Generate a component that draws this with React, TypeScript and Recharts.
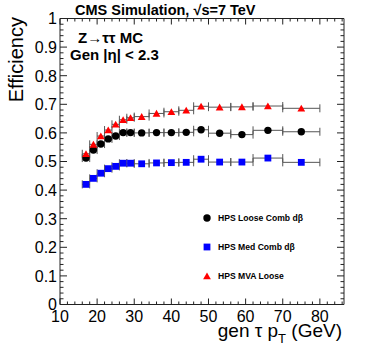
import React from 'react';
import { ScatterChart, Scatter, XAxis, YAxis, ErrorBar, ReferenceLine } from 'recharts';

// ---- data ----
const ptBins = [17, 19, 21, 23, 25, 27, 29, 32, 36, 40, 44, 48, 53, 59, 66, 75];
const ptHalfWidths = [1, 1, 1, 1, 1, 1, 1, 2, 2, 2, 2, 2, 3, 3, 4, 5];
const effLooseCombDb = [0.512, 0.54, 0.561, 0.579, 0.589, 0.601, 0.601, 0.6, 0.601, 0.601, 0.602, 0.611, 0.599, 0.594, 0.609, 0.604];
const effMedCombDb = [0.42, 0.441, 0.459, 0.475, 0.483, 0.494, 0.494, 0.492, 0.495, 0.496, 0.497, 0.508, 0.498, 0.498, 0.512, 0.497];
const effMvaLoose = [0.527, 0.56, 0.589, 0.61, 0.63, 0.646, 0.653, 0.657, 0.668, 0.674, 0.679, 0.693, 0.69, 0.691, 0.694, 0.686];

const xMajorTicks = [10, 20, 30, 40, 50, 60, 70, 80];
const yMajorTicks = ['0', '0.1', '0.2', '0.3', '0.4', '0.5', '0.6', '0.7', '0.8', '0.9', '1'];
const seriesNames = ['HPS Loose Comb dβ', 'HPS Med Comb dβ', 'HPS MVA Loose'];

// ---- layout ----
const W = 374;
const H = 351;
const M = { top: 18.5, right: 30, bottom: 0, left: 0 };
const Y_AXIS_W = 60;
const X_AXIS_H = 46.5;
const PLOT_W = W - M.left - M.right - Y_AXIS_W;
const PLOT_H = H - M.top - M.bottom - X_AXIS_H;
const X_DOMAIN: [number, number] = [10, 86.5];
const FONT = '"Liberation Sans", Arial, Helvetica, sans-serif';
const AXIS_COLOR = '#222';

const xTickValues: number[] = [];
for (let v = 10; v <= 86; v += 2) xTickValues.push(v);
const yTickValues: number[] = [];
for (let i = 0; i <= 50; i++) yTickValues.push(Math.round(i * 2) / 100);

const build = (vals: number[]) =>
  ptBins.map((x, i) => ({ x, y: vals[i], xerr: ptHalfWidths[i] }));

const dataLoose = build(effLooseCombDb);
const dataMed = build(effMedCombDb);
const dataMva = build(effMvaLoose);

const XTick = (props: any) => {
  const { x, y, payload } = props;
  const v = payload.value;
  const major = xMajorTicks.includes(v);
  const len = major ? 6 : 3;
  const top = y - PLOT_H;
  return (
    <g>
      <line x1={x} x2={x} y1={y} y2={y - len} stroke={AXIS_COLOR} strokeWidth={1} />
      <line x1={x} x2={x} y1={top} y2={top + len} stroke={AXIS_COLOR} strokeWidth={1} />
      {major && (
        <text x={x} y={y + 17} textAnchor="middle" fontSize={16} fontFamily={FONT} fill="#000">
          {String(v)}
        </text>
      )}
    </g>
  );
};

const YTick = (props: any) => {
  const { x, y, payload } = props;
  const v = payload.value;
  const idx = Math.round(v * 10);
  const major = Math.abs(v * 10 - idx) < 1e-6;
  const len = major ? 7 : 3.5;
  const right = x + PLOT_W;
  return (
    <g>
      <line x1={x} x2={x + len} y1={y} y2={y} stroke={AXIS_COLOR} strokeWidth={1} />
      <line x1={right} x2={right - len} y1={y} y2={y} stroke={AXIS_COLOR} strokeWidth={1} />
      {major && (
        <text x={x - 3} y={y + 5.8} textAnchor="end" fontSize={16} fontFamily={FONT} fill="#000">
          {yMajorTicks[idx]}
        </text>
      )}
    </g>
  );
};

const CircleShape = (p: any) => <circle cx={p.cx} cy={p.cy} r={3.7} fill="#000" />;
const SquareShape = (p: any) => <rect x={p.cx - 3.4} y={p.cy - 3.4} width={6.8} height={6.8} fill="#0000ff" />;
const TriangleShape = (p: any) => (
  <polygon
    points={`${p.cx},${p.cy - 3.6} ${p.cx + 3.9},${p.cy + 3.3} ${p.cx - 3.9},${p.cy + 3.3}`}
    fill="#ff0000"
  />
);

const legendMarkers = [
  <circle cx={5} cy={5} r={3.7} fill="#000" />,
  <rect x={1.6} y={1.6} width={6.8} height={6.8} fill="#0000ff" />,
  <polygon points="5,1.4 8.9,8.3 1.1,8.3" fill="#ff0000" />,
];

const LegendBox = () => (
  <div style={{ position: 'absolute', left: 202, top: 203, width: 140, fontFamily: FONT }}>
    {seriesNames.map((name, i) => (
      <div key={name} style={{ display: 'flex', alignItems: 'center', height: 29 }}>
        <svg width={10} height={10} style={{ display: 'block' }}>
          {legendMarkers[i]}
        </svg>
        <span style={{ marginLeft: 6, fontSize: 8.6, fontWeight: 'bold', color: '#000' }}>{name}</span>
      </div>
    ))}
  </div>
);

export default function App() {
  return (
    <div style={{ position: 'absolute', left: 0, top: 0, width: W, height: H, background: '#fff' }}>
      <ScatterChart width={W} height={H} margin={M}>
        <XAxis
          type="number"
          dataKey="x"
          domain={X_DOMAIN}
          ticks={xTickValues}
          interval={0}
          allowDataOverflow
          height={X_AXIS_H}
          tickSize={0}
          tickMargin={0}
          tickLine={false}
          axisLine={{ stroke: AXIS_COLOR, strokeWidth: 1 }}
          tick={<XTick />}
        />
        <YAxis
          type="number"
          dataKey="y"
          domain={[0, 1]}
          ticks={yTickValues}
          interval={0}
          allowDataOverflow
          width={Y_AXIS_W}
          tickSize={0}
          tickMargin={0}
          tickLine={false}
          axisLine={{ stroke: AXIS_COLOR, strokeWidth: 1 }}
          tick={<YTick />}
        />
        <ReferenceLine y={1} stroke={AXIS_COLOR} strokeWidth={1} ifOverflow="extendDomain" />
        <ReferenceLine x={X_DOMAIN[1]} stroke={AXIS_COLOR} strokeWidth={1} ifOverflow="extendDomain" />
        <Scatter name={seriesNames[0]} data={dataLoose} shape={<CircleShape />} isAnimationActive={false}>
          <ErrorBar dataKey="xerr" direction="x" width={4} stroke="#555" strokeWidth={1} />
        </Scatter>
        <Scatter name={seriesNames[1]} data={dataMed} shape={<SquareShape />} isAnimationActive={false}>
          <ErrorBar dataKey="xerr" direction="x" width={4} stroke="#555" strokeWidth={1} />
        </Scatter>
        <Scatter name={seriesNames[2]} data={dataMva} shape={<TriangleShape />} isAnimationActive={false}>
          <ErrorBar dataKey="xerr" direction="x" width={4} stroke="#555" strokeWidth={1} />
        </Scatter>
      </ScatterChart>
      <LegendBox />
      <svg
        width={W}
        height={H}
        style={{ position: 'absolute', left: 0, top: 0, pointerEvents: 'none' }}
      >
        <text x={75} y={14.5} fontSize={14.5} fontWeight="bold" fontFamily={FONT} fill="#000">
          CMS Simulation, √s=7 TeV
        </text>
        <text x={78} y={43} fontSize={15} fontWeight="bold" fontFamily={FONT} fill="#000">
          Z→ττ MC
        </text>
        <text x={70} y={60} fontSize={15} fontWeight="bold" fontFamily={FONT} fill="#000">
          Gen |η| &lt; 2.3
        </text>
        <text x={342} y={337} textAnchor="end" fontSize={19} fontFamily={FONT} fill="#000">
          gen τ p<tspan fontSize={13} dy={6}>T</tspan>
          <tspan dy={-6}> (GeV)</tspan>
        </text>
        <text
          x={0}
          y={0}
          transform="translate(22.5,17) rotate(-90)"
          textAnchor="end"
          fontSize={20}
          fontFamily={FONT}
          fill="#000"
        >
          Efficiency
        </text>
      </svg>
    </div>
  );
}
